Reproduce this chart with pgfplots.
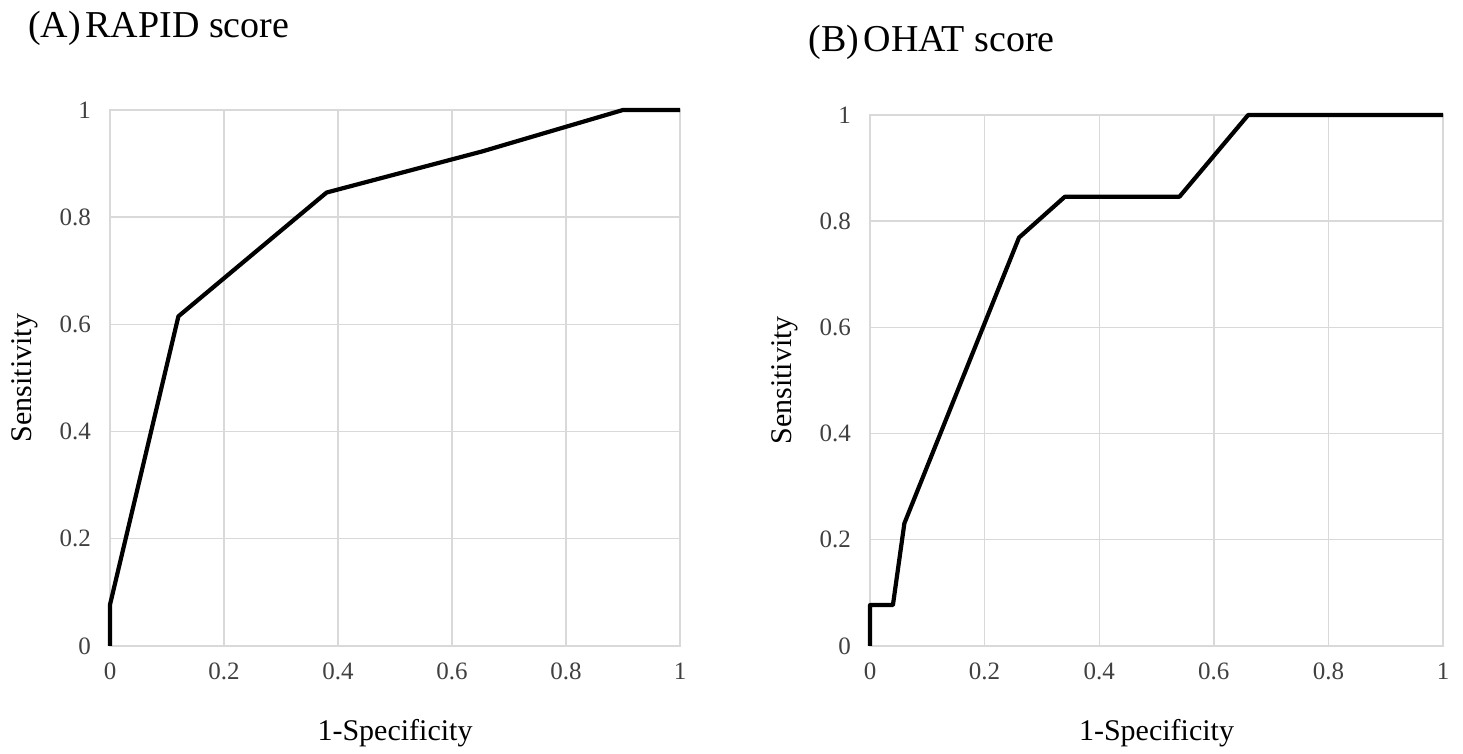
\documentclass[border=0pt]{standalone}
\usepackage{pgfplots}
\pgfplotsset{compat=1.18}
\usepackage{fontspec}
\setmainfont{Liberation Serif}
\definecolor{gridc}{HTML}{D9D9D9}
\definecolor{txt}{HTML}{404040}
\pgfplotsset{rocstyle/.style={
  scale only axis, clip=false,
  xmin=0, xmax=1, ymin=0, ymax=1,
  xtick={0,0.2,0.4,0.6,0.8,1}, ytick={0,0.2,0.4,0.6,0.8,1},
  grid=major, major grid style={gridc, line width=0.7pt},
  axis line style={gridc, line width=0.7pt},
  tick style={draw=none},
  /pgf/number format/assume math mode=true,
  ticklabel style={font=\fontsize{12.5}{14}\selectfont, text=txt},
  xticklabel style={yshift=-5pt},
  yticklabel style={xshift=-6pt},
  label style={font=\fontsize{15}{17}\selectfont, text=black},
  xlabel={1-Specificity}, ylabel={Sensitivity},
  xlabel style={at={(axis description cs:0.5,0)}, anchor=center, yshift=-43.5pt},
  ylabel style={at={(axis description cs:0,0.5)}, anchor=center, yshift=42.5pt},
  every axis title shift=0pt,
  title style={font=\fontsize{19}{22}\selectfont, anchor=west, inner sep=0pt},
}}
\begin{document}
\begin{tikzpicture}
\path (0,0) rectangle (731.5pt,374pt);
\begin{axis}[rocstyle, at={(55pt,51pt)}, anchor=south west,
  width=285pt, height=268pt,
  title={(A)\hspace{0.12em}RAPID score},
  title style={at={(axis description cs:-0.144,1.153)}}]
\addplot[black, line width=2.1pt, line join=round] coordinates {
(0,0) (0,0.077) (0.12,0.615) (0.38,0.846) (0.654,0.923) (0.9,1) (1,1)};
\end{axis}
\begin{axis}[rocstyle, at={(435pt,51pt)}, anchor=south west,
  width=286.5pt, height=265.5pt,
  title={(B)\hspace{0.12em}OHAT score},
  title style={at={(axis description cs:-0.108,1.136)}}]
\addplot[black, line width=2.1pt, line join=round] coordinates {
(0,0) (0,0.077) (0.04,0.077) (0.06,0.231) (0.26,0.769) (0.34,0.846) (0.54,0.846) (0.66,1) (1,1)};
\end{axis}
\end{tikzpicture}
\end{document}
